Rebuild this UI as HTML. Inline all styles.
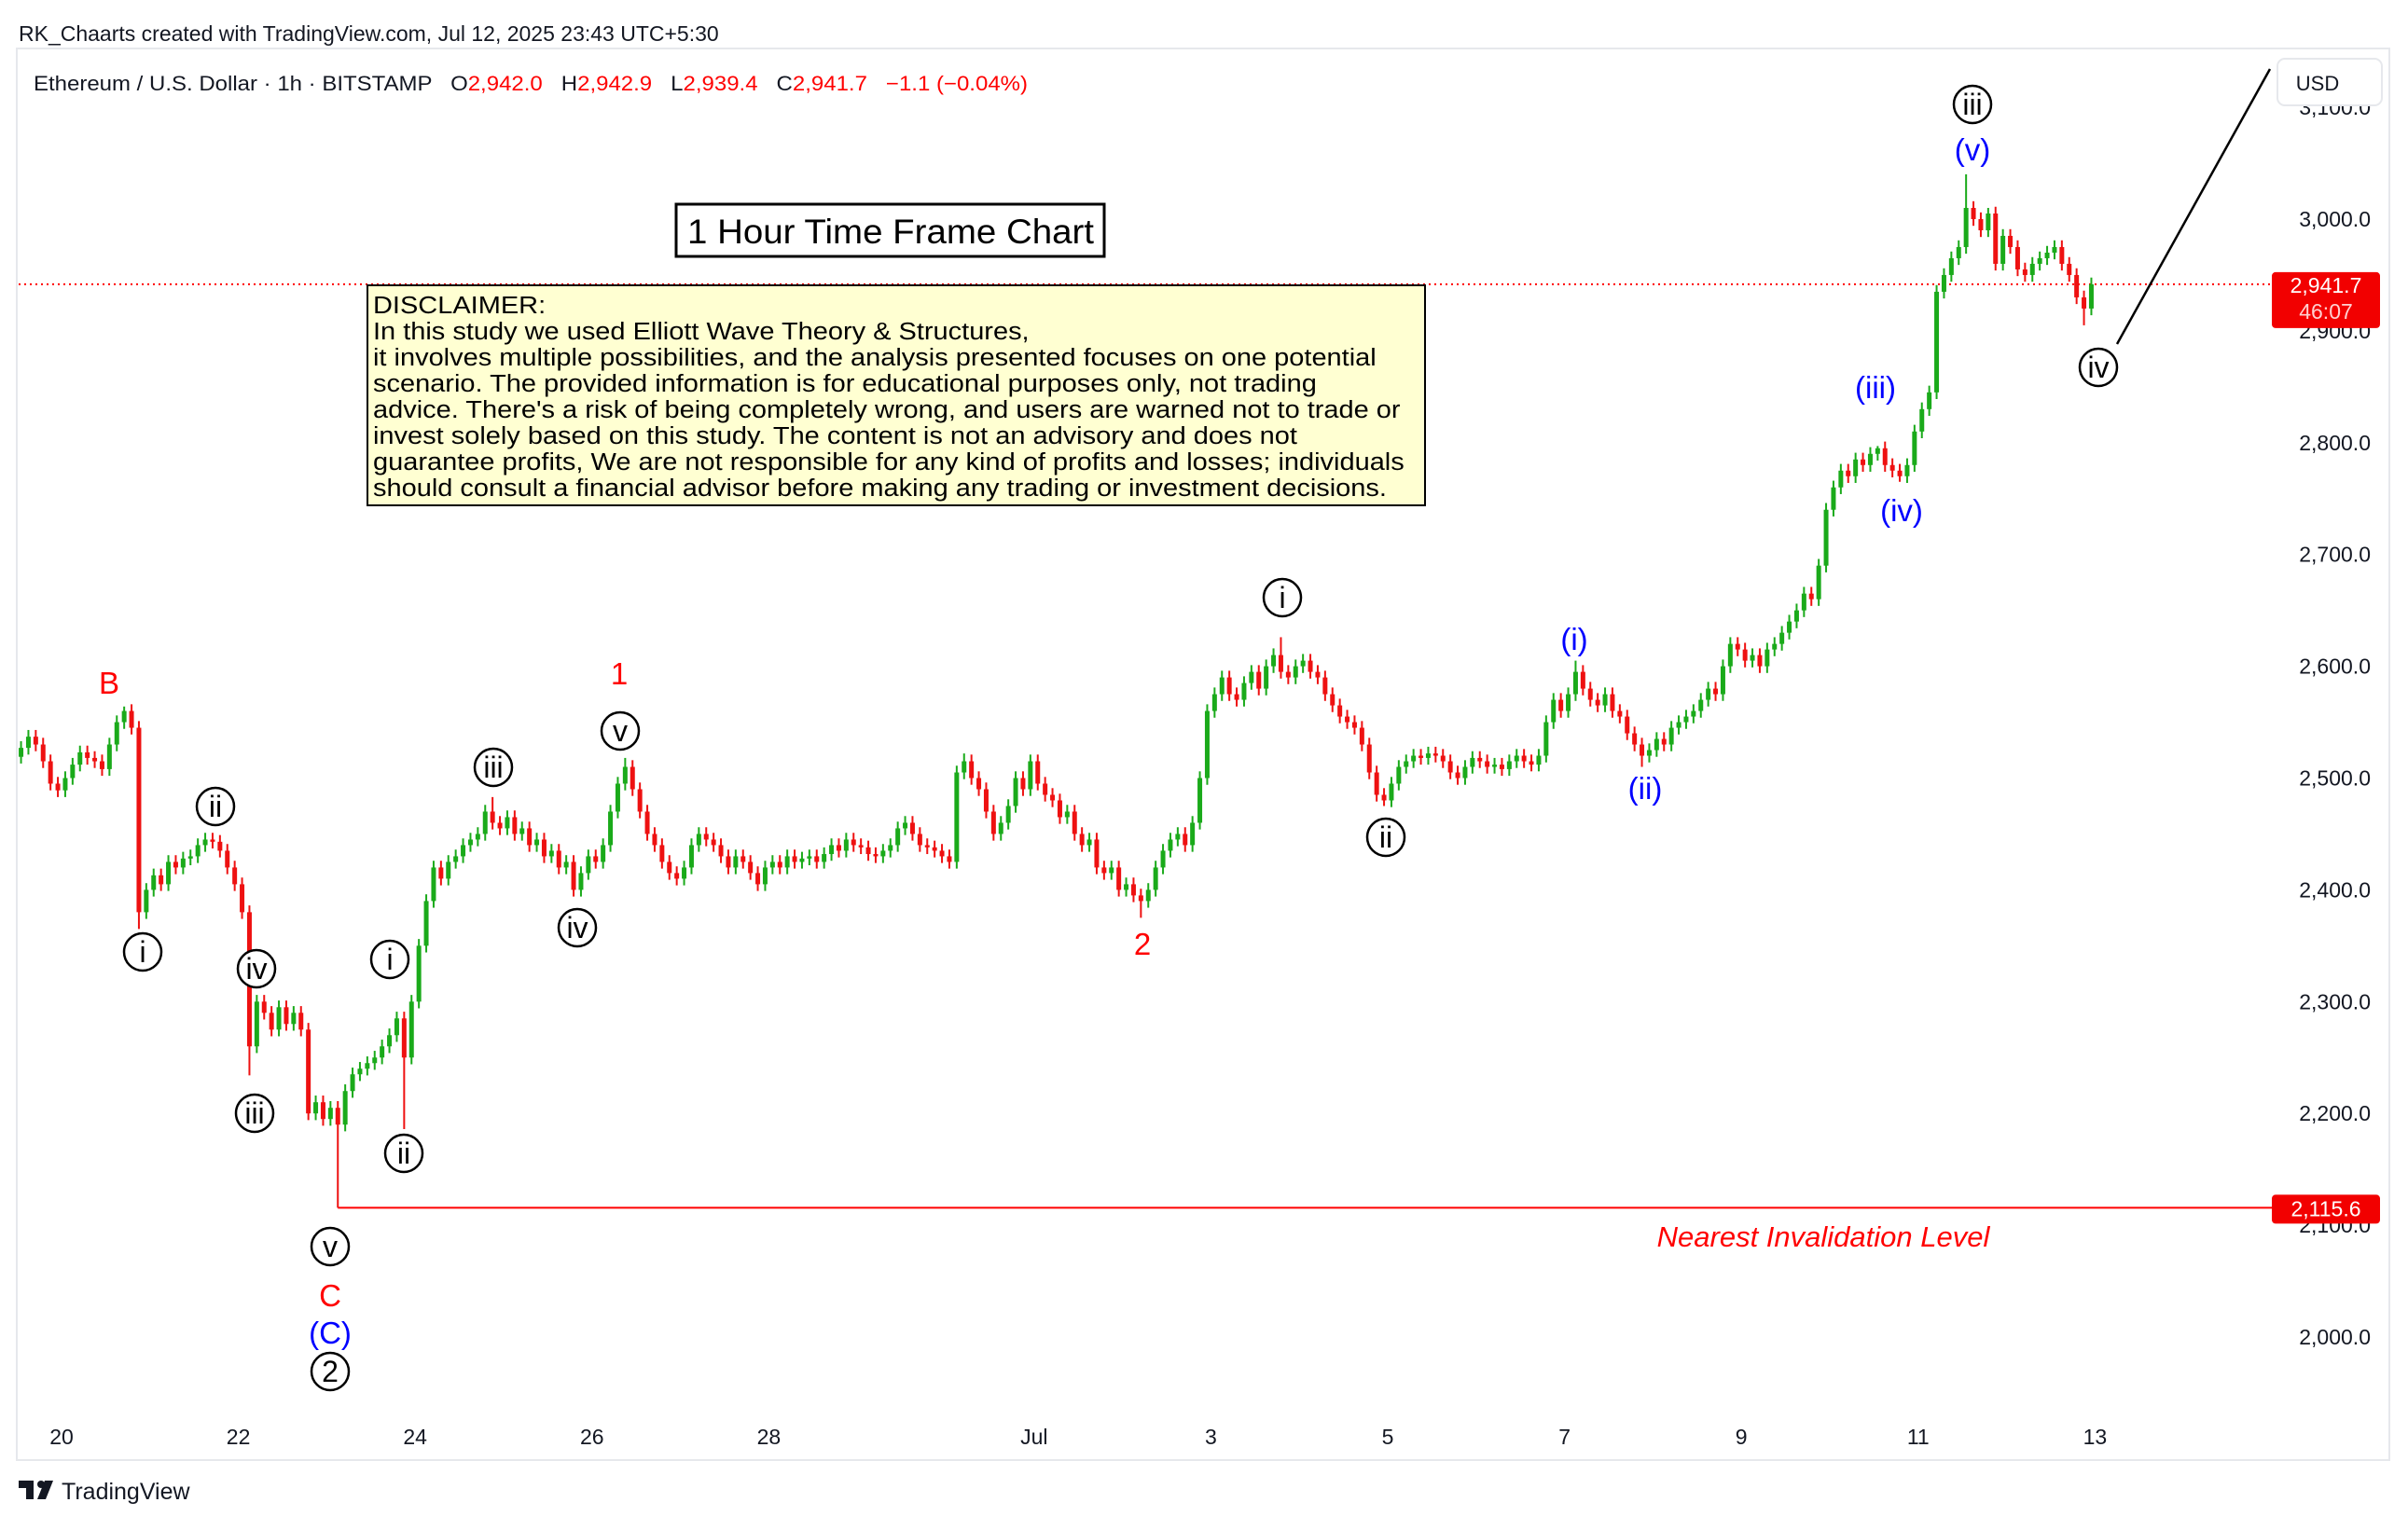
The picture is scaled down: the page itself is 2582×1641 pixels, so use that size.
<!DOCTYPE html>
<html><head><meta charset="utf-8"><style>
html,body{margin:0;padding:0;background:#fff;}
body{width:2582px;height:1636px;overflow:hidden;font-family:"Liberation Sans",sans-serif;}
text{white-space:pre;}
</style></head><body>
<svg id="chart" width="2582" height="1636" viewBox="0 0 2582 1636" xmlns="http://www.w3.org/2000/svg">
<rect x="0" y="0" width="2582" height="1636" fill="#fff"/>
<text x="20" y="44" font-size="23" fill="#131722" font-family="Liberation Sans, sans-serif">RK_Chaarts created with TradingView.com, Jul 12, 2025 23:43 UTC+5:30</text>
<rect x="18" y="52" width="2544" height="1514" fill="none" stroke="#e6e8ec" stroke-width="2"/>
<text x="36" y="97" font-size="22" fill="#131722" font-family="Liberation Sans, sans-serif" textLength="1066" lengthAdjust="spacingAndGlyphs">Ethereum / U.S. Dollar · 1h · BITSTAMP   O<tspan fill="#f00">2,942.0</tspan>   H<tspan fill="#f00">2,942.9</tspan>   L<tspan fill="#f00">2,939.4</tspan>   C<tspan fill="#f00">2,941.7</tspan>   <tspan fill="#f00">−1.1 (−0.04%)</tspan></text>
<g id="yaxis"></g>
<g id="xaxis"></g>
<g id="lines"></g>
<g id="candles"></g>
<g id="labels"></g>
<rect x="725" y="219" width="459" height="56" fill="#fff" stroke="#000" stroke-width="3"/>
<text x="737" y="261" font-size="37" fill="#000" textLength="436" lengthAdjust="spacingAndGlyphs" font-family="Liberation Sans, sans-serif">1 Hour Time Frame Chart</text>
<g>
<rect x="394" y="306" width="1134" height="236" fill="#ffffd2" stroke="#000" stroke-width="2"/>
<g transform="translate(400,0) scale(1.115,1)">
<text font-size="26" fill="#000" font-family="Liberation Sans, sans-serif">
<tspan x="0" y="336">DISCLAIMER:</tspan>
<tspan x="0" y="364">In this study we used Elliott Wave Theory &amp; Structures,</tspan>
<tspan x="0" y="392">it involves multiple possibilities, and the analysis presented focuses on one potential</tspan>
<tspan x="0" y="420">scenario. The provided information is for educational purposes only, not trading</tspan>
<tspan x="0" y="448">advice. There's a risk of being completely wrong, and users are warned not to trade or</tspan>
<tspan x="0" y="476">invest solely based on this study. The content is not an advisory and does not</tspan>
<tspan x="0" y="504">guarantee profits, We are not responsible for any kind of profits and losses; individuals</tspan>
<tspan x="0" y="532">should consult a financial advisor before making any trading or investment decisions.</tspan>
</text></g></g>
<rect x="2442" y="63" width="112" height="50" rx="8" fill="#fff" stroke="#e6e8ec" stroke-width="2"/>
<text x="2485" y="97" font-size="22" fill="#131722" text-anchor="middle" font-family="Liberation Sans, sans-serif">USD</text>
<g>
<path d="M20 1588 h16 v20 h-8 v-12 h-8z M40 1608 l8 -20 h9 l-8 20z" fill="#131722"/>
<circle cx="44" cy="1592" r="4" fill="#131722"/>
<text x="66" y="1608" font-size="25" fill="#131722" font-family="Liberation Sans, sans-serif">TradingView</text>
</g>
</svg>
<script>
const closes=[2527,2537,2530,2515,2495,2489,2500,2512,2523,2518,2515,2508,2530,2550,2560,2545,
2380,2400,2413,2405,2425,2420,2428,2430,2440,2445,2443,2435,2420,2405,2380,2260,2300,2290,2275,2295,2280,2290,2275,2200,
2210,2195,2205,2190,2220,2235,2240,2245,2250,2260,2270,2285,2250,2300,2350,2390,2420,2410,2425,2430,
2440,2445,2450,2470,2460,2455,2465,2450,2455,2440,2445,2430,2435,2420,2425,2400,2415,2430,2425,2440,
2470,2495,2510,2490,2470,2450,2440,2425,2415,2410,2420,2440,2450,2445,2440,2430,2420,2430,2425,2415,
2405,2420,2425,2420,2430,2425,2428,2430,2425,2432,2440,2435,2445,2440,2438,2432,2430,2435,2440,2455,
2460,2450,2440,2438,2435,2430,2425,2505,2515,2500,2490,2470,2450,2460,2475,2500,2490,2515,2495,2485,
2480,2465,2470,2450,2440,2445,2420,2415,2420,2400,2405,2395,2390,2400,2420,2435,2445,2450,2440,2460,
2500,2560,2575,2590,2575,2570,2585,2595,2580,2600,2610,2595,2590,2600,2605,2595,2590,2575,2565,2555,
2550,2545,2530,2505,2485,2480,2495,2510,2515,2520,2518,2522,2520,2515,2505,2500,2510,2518,2515,2510,
2512,2508,2515,2520,2515,2512,2520,2550,2570,2560,2575,2595,2580,2570,2565,2575,2560,2555,2540,2530,
2520,2525,2535,2530,2545,2550,2555,2560,2570,2580,2575,2600,2620,2615,2605,2610,2600,2615,2620,2630,
2640,2650,2665,2660,2690,2740,2760,2775,2770,2785,2780,2790,2795,2780,2775,2770,2780,2810,2830,2845,
2935,2950,2965,2975,3010,3000,2990,3005,2960,2985,2975,2955,2950,2960,2965,2970,2975,2960,2950,2930,
2920,2941.7];
const wickLowIdx=[16,31,43,52,152,185,220,255,280];
const wickLowVal=[2365,2234,2115.6,2186,2375,2475,2510,2765,2905];
const wickHighIdx=[14,64,82,128,137,171,211,252,264,267];
const wickHighVal=[2564,2483,2518,2522,2521,2626,2605,2797,3040,3010];
const priceTicks=[2000,2100,2200,2300,2400,2500,2600,2700,2800,2900,3000,3100];
const dateLabels=["20","22","24","26","28","Jul","3","5","7","9","11","13"];
const dateDays=[0,2,4,6,8,11,13,15,17,19,21,23];
const lastPrice=2941.7, invalidation=2115.6;

const NS="http://www.w3.org/2000/svg";
function yOf(p){return 235+(3000-p)*1.199;}
function xOfHour(h){return 66+h*3.95;}
function xOf(i){return xOfHour(i*2-12+1);}
function mk(tag,attrs,parent){const e=document.createElementNS(NS,tag);for(const k in attrs)e.setAttribute(k,attrs[k]);parent.appendChild(e);return e;}

const ya=document.getElementById('yaxis');
priceTicks.forEach(p=>{
  const t=mk('text',{x:2542,y:yOf(p)+8,'font-size':23,'text-anchor':'end',fill:'#131722','font-family':'Liberation Sans, sans-serif'},ya);
  
  
  t.textContent=p.toLocaleString('en-US',{minimumFractionDigits:1});
});
const xa=document.getElementById('xaxis');
dateLabels.forEach((d,k)=>{
  const t=mk('text',{x:xOfHour(dateDays[k]*24),y:1549,'font-size':23,'text-anchor':'middle',fill:'#131722','font-family':'Liberation Sans, sans-serif'},xa);
  
  
  t.textContent=d;
});

const lg=document.getElementById('lines');
const pl=mk('line',{x1:20,x2:2436,y1:yOf(lastPrice),y2:yOf(lastPrice),stroke:'#f00','stroke-width':2,'stroke-dasharray':'2 4'},lg);


const il=mk('line',{x1:xOf(43),x2:2436,y1:yOf(invalidation),y2:yOf(invalidation),stroke:'#f00','stroke-width':2},lg);


const pb=mk('rect',{x:2436,y:yOf(lastPrice)-13,width:116,height:60,rx:4,fill:'#f20000'},lg);


const pt=mk('text',{x:2494,y:yOf(lastPrice)+9,'font-size':23,'text-anchor':'middle',fill:'#fff','font-family':'Liberation Sans, sans-serif'},lg);


pt.textContent=lastPrice.toLocaleString('en-US',{minimumFractionDigits:1});
const ct=mk('text',{x:2494,y:yOf(lastPrice)+37,'font-size':23,'text-anchor':'middle',fill:'#ffd0d0','font-family':'Liberation Sans, sans-serif'},lg);


ct.textContent='46:07';
const ib=mk('rect',{x:2436,y:yOf(invalidation)-14,width:116,height:31,rx:4,fill:'#f20000'},lg);


const it=mk('text',{x:2494,y:yOf(invalidation)+9,'font-size':23,'text-anchor':'middle',fill:'#fff','font-family':'Liberation Sans, sans-serif'},lg);


it.textContent=invalidation.toLocaleString('en-US',{minimumFractionDigits:1});
const pr=mk('line',{x1:2270,y1:369,x2:2434,y2:74,stroke:'#000','stroke-width':2.5},lg);



const cg=document.getElementById('candles');
closes.forEach((c,i)=>{
  const o=i===0?c-8:closes[i-1];
  let hi=Math.max(o,c)+6, lo=Math.min(o,c)-6;
  const a=wickLowIdx.indexOf(i); if(a>=0) lo=wickLowVal[a];
  const b=wickHighIdx.indexOf(i); if(b>=0) hi=wickHighVal[b];
  const col=c>=o?'#1aaa1a':'#ee1111';
  const x=xOf(i);
  const w=mk('line',{x1:x,x2:x,y1:yOf(hi),y2:yOf(lo),stroke:col,'stroke-width':2},cg);
  
  
  const top=yOf(Math.max(o,c)), h=Math.max(2,yOf(Math.min(o,c))-top);
  const r=mk('rect',{x:x-2.5,y:top,width:5,height:h,fill:col},cg);
  
  
});

const lab=document.getElementById('labels');
const circ=[["i",153,1021],["ii",231,865],["iv",275,1039],["iii",273,1194],["v",354,1337],["i",418,1029],["ii",433,1237],["iii",529,823],["iv",619,995],["v",665,784],["i",1375,641],["ii",1486,898],["iii",2115,112],["iv",2250,394],["2",354,1471]];
circ.forEach(([t,x,y])=>{
  const g=mk('g',{},lab);
  
  
  mk('circle',{cx:x,cy:y,r:20,fill:'#fff',stroke:'#000','stroke-width':2.5},g);
  const tx=mk('text',{x:x,y:y+11,'font-size':32,'text-anchor':'middle',fill:'#000','font-family':'Liberation Sans, sans-serif'},g);
  tx.textContent=t;
});
const plain=[["B",117,744,'#f00'],["1",664,734,'#f00'],["2",1225,1024,'#f00'],["C",354,1401,'#f00'],["(C)",354,1441,'#0000ff'],["(i)",1688,697,'#0000ff'],["(ii)",1764,857,'#0000ff'],["(iii)",2011,427,'#0000ff'],["(iv)",2039,559,'#0000ff'],["(v)",2115,172,'#0000ff']];
plain.forEach(([t,x,y,c])=>{
  const tx=mk('text',{x:x,y:y,'font-size':33,'text-anchor':'middle',fill:c,'font-family':'Liberation Sans, sans-serif'},lab);
  
  
  tx.textContent=t;
});
const nl=mk('text',{x:1955,y:1337,'font-size':31,'font-style':'italic','text-anchor':'middle',fill:'#f00','font-family':'Liberation Sans, sans-serif'},lab);


nl.textContent='Nearest Invalidation Level';
</script>
</body></html>
